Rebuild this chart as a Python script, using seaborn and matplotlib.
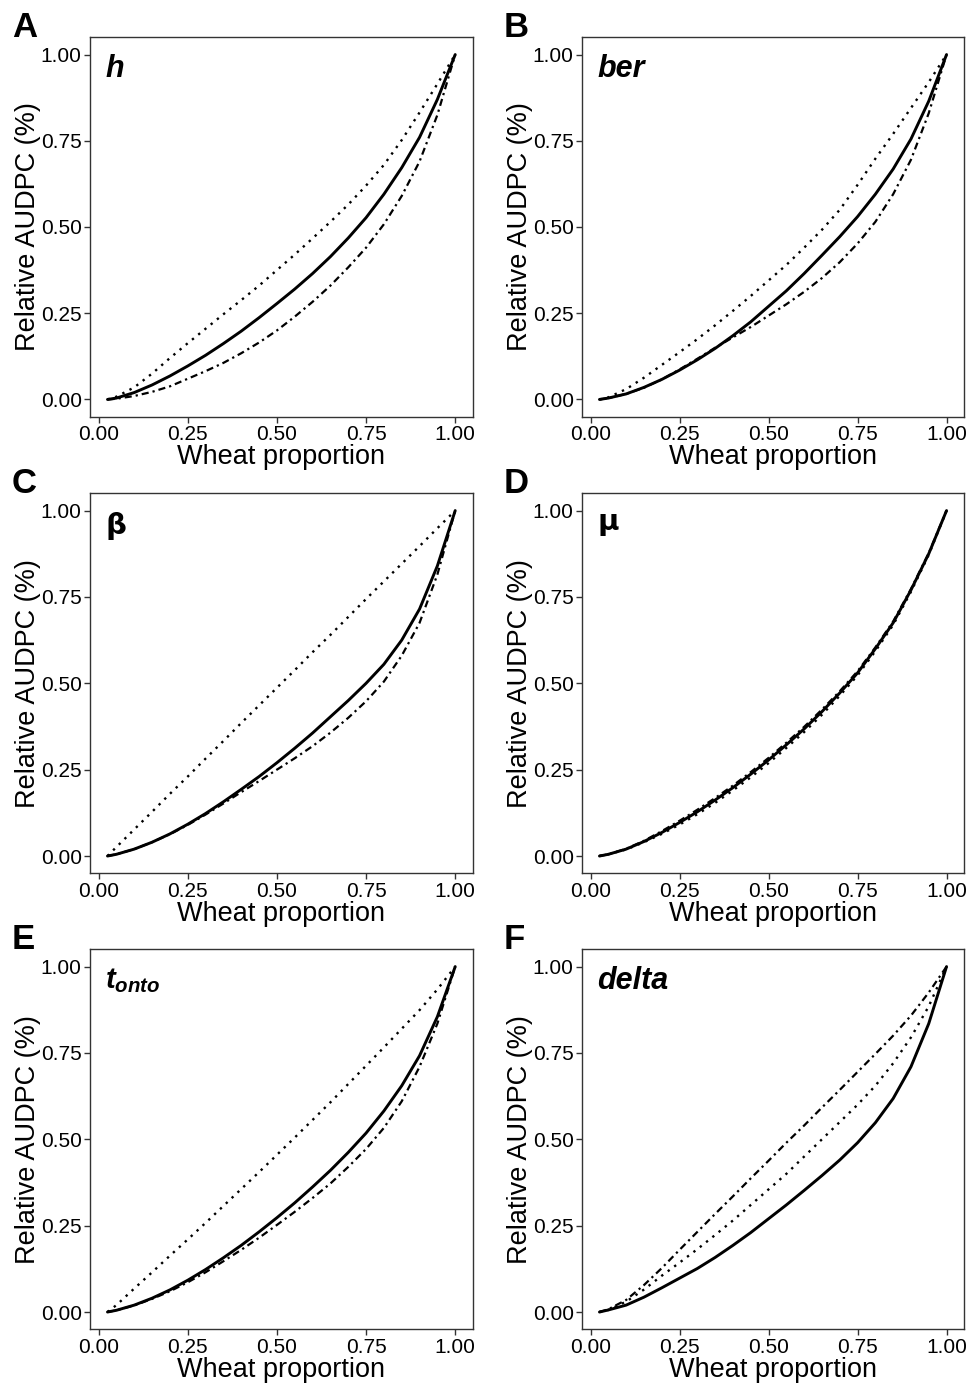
import numpy as np
import pandas as pd
import matplotlib
matplotlib.use("Agg")
import matplotlib.pyplot as plt
import seaborn as sns

# wheat proportion grid
wheat_prop = [0.025, 0.05, 0.1, 0.15, 0.2, 0.25, 0.3, 0.35, 0.4, 0.45, 0.5,
              0.55, 0.6, 0.65, 0.7, 0.75, 0.8, 0.85, 0.9, 0.95, 1.0]

# A - h
h_solid   = [0.0, 0.004, 0.020, 0.042, 0.068, 0.097, 0.128, 0.162, 0.198, 0.237, 0.278,
             0.320, 0.365, 0.414, 0.468, 0.527, 0.595, 0.672, 0.760, 0.870, 1.0]
h_dotted  = [0.0, 0.008, 0.035, 0.075, 0.120, 0.163, 0.205, 0.247, 0.288, 0.330, 0.375,
             0.420, 0.467, 0.515, 0.565, 0.620, 0.680, 0.752, 0.832, 0.915, 1.0]
h_dotdash = [0.0, 0.002, 0.010, 0.022, 0.038, 0.060, 0.082, 0.106, 0.134, 0.165, 0.200,
             0.240, 0.283, 0.330, 0.383, 0.440, 0.508, 0.590, 0.690, 0.825, 1.0]

# B - ber
ber_solid   = [0.0, 0.004, 0.016, 0.035, 0.058, 0.085, 0.115, 0.148, 0.185, 0.225, 0.270,
               0.315, 0.365, 0.418, 0.472, 0.530, 0.595, 0.668, 0.755, 0.865, 1.0]
ber_dotted  = [0.0, 0.006, 0.030, 0.063, 0.100, 0.137, 0.175, 0.215, 0.257, 0.300, 0.345,
               0.390, 0.440, 0.492, 0.550, 0.622, 0.698, 0.770, 0.845, 0.920, 1.0]
ber_dotdash = [0.0, 0.004, 0.016, 0.034, 0.058, 0.087, 0.118, 0.150, 0.180, 0.210, 0.243,
               0.276, 0.312, 0.352, 0.398, 0.452, 0.515, 0.595, 0.695, 0.830, 1.0]

# C - beta
beta_solid   = [0.0, 0.005, 0.020, 0.040, 0.064, 0.092, 0.123, 0.157, 0.193, 0.230, 0.270,
                0.312, 0.356, 0.403, 0.450, 0.500, 0.555, 0.625, 0.715, 0.840, 1.0]
beta_dotted  = [0.0, 0.026, 0.077, 0.128, 0.180, 0.230, 0.282, 0.333, 0.385, 0.436, 0.487,
                0.538, 0.590, 0.640, 0.692, 0.744, 0.795, 0.846, 0.897, 0.949, 1.0]
beta_dotdash = [0.0, 0.005, 0.020, 0.040, 0.063, 0.090, 0.120, 0.152, 0.185, 0.217, 0.250,
                0.283, 0.318, 0.357, 0.400, 0.448, 0.505, 0.580, 0.675, 0.815, 1.0]

# D - mu
mu_solid   = [0.0, 0.005, 0.020, 0.042, 0.068, 0.097, 0.128, 0.162, 0.198, 0.237, 0.278,
              0.322, 0.368, 0.418, 0.472, 0.530, 0.600, 0.675, 0.770, 0.875, 1.0]
mu_dotted  = [0.0, 0.005, 0.019, 0.040, 0.064, 0.091, 0.121, 0.154, 0.190, 0.228, 0.269,
              0.313, 0.359, 0.409, 0.464, 0.523, 0.593, 0.669, 0.765, 0.872, 1.0]
mu_dotdash = [0.0, 0.005, 0.021, 0.044, 0.072, 0.102, 0.134, 0.168, 0.204, 0.243, 0.284,
              0.328, 0.374, 0.424, 0.477, 0.535, 0.604, 0.679, 0.773, 0.877, 1.0]

# E - t_onto
tonto_solid   = [0.0, 0.005, 0.020, 0.040, 0.064, 0.092, 0.123, 0.157, 0.193, 0.232, 0.273,
                 0.316, 0.362, 0.410, 0.462, 0.518, 0.582, 0.655, 0.742, 0.855, 1.0]
tonto_dotted  = [0.0, 0.020, 0.068, 0.115, 0.163, 0.210, 0.258, 0.307, 0.356, 0.405, 0.455,
                 0.505, 0.556, 0.607, 0.660, 0.713, 0.766, 0.820, 0.874, 0.934, 1.0]
tonto_dotdash = [0.0, 0.005, 0.019, 0.038, 0.060, 0.086, 0.115, 0.147, 0.180, 0.215, 0.252,
                 0.290, 0.330, 0.372, 0.420, 0.472, 0.533, 0.610, 0.710, 0.835, 1.0]

# F - delta
delta_solid   = [0.0, 0.006, 0.020, 0.043, 0.070, 0.098, 0.126, 0.158, 0.193, 0.230, 0.270,
                 0.310, 0.352, 0.395, 0.440, 0.490, 0.548, 0.618, 0.710, 0.835, 1.0]
delta_dotted  = [0.0, 0.006, 0.030, 0.065, 0.105, 0.143, 0.182, 0.223, 0.265, 0.310, 0.355,
                 0.400, 0.450, 0.500, 0.550, 0.600, 0.655, 0.720, 0.795, 0.885, 1.0]
delta_dotdash = [0.0, 0.008, 0.035, 0.078, 0.127, 0.180, 0.232, 0.284, 0.335, 0.387, 0.438,
                 0.490, 0.540, 0.592, 0.643, 0.695, 0.747, 0.800, 0.858, 0.925, 1.0]

panel_letters = ["A", "B", "C", "D", "E", "F"]
panel_params = ["h", "ber", r"$\mathbf{\beta}$", r"$\mathbf{\mu}$", r"$t_{onto}$", "delta"]
panel_series = [
    (h_solid, h_dotted, h_dotdash),
    (ber_solid, ber_dotted, ber_dotdash),
    (beta_solid, beta_dotted, beta_dotdash),
    (mu_solid, mu_dotted, mu_dotdash),
    (tonto_solid, tonto_dotted, tonto_dotdash),
    (delta_solid, delta_dotted, delta_dotdash),
]
curve_names = ["solid", "dotted", "dotdash"]

# long table
rows = []
for letter, series in zip(panel_letters, panel_series):
    for name, vals in zip(curve_names, series):
        for xv, yv in zip(wheat_prop, vals):
            rows.append({"panel": letter, "curve": name, "x": xv, "y": yv})
df = pd.DataFrame(rows)

sns.set_theme(style="white")
plt.rcParams["font.family"] = ["Liberation Sans", "DejaVu Sans"]
plt.rcParams["text.color"] = "black"
plt.rcParams["axes.labelcolor"] = "black"
plt.rcParams["mathtext.fontset"] = "custom"
plt.rcParams["mathtext.it"] = "Liberation Sans:bold:italic"
plt.rcParams["mathtext.bf"] = "DejaVu Sans:bold"
plt.rcParams["mathtext.rm"] = "Liberation Sans"

line_styles = {
    "solid":   dict(lw=2.1, dashes=None),
    "dotted":  dict(lw=1.7, dashes=(1, 2.4)),
    "dotdash": dict(lw=1.6, dashes=(3.2, 1.8, 1, 1.8)),
}

W, H = 969, 1384
fig = plt.figure(figsize=(W / 100, H / 100), dpi=100)

col_left = [90, 582]
col_right = [472.7, 964]
row_top = [37.3, 493.3, 949.3]
row_bot = [416.7, 873.3, 1329.3]

for i, letter in enumerate(panel_letters):
    r, c = divmod(i, 2)
    ax = fig.add_axes([col_left[c] / W, 1 - row_bot[r] / H,
                       (col_right[c] - col_left[c]) / W, (row_bot[r] - row_top[r]) / H])
    sub = df[df["panel"] == letter]
    for name in curve_names:
        st = line_styles[name]
        d = sub[sub["curve"] == name]
        sns.lineplot(data=d, x="x", y="y", ax=ax, color="black", lw=st["lw"],
                     sort=False, estimator=None, legend=False)
        ax.lines[-1].set_solid_joinstyle("round")
        if st["dashes"] is not None:
            ax.lines[-1].set_dashes(st["dashes"])
    ax.set_xlim(-0.024, 1.049)
    ax.set_ylim(-0.05, 1.05)
    ticks = [0, 0.25, 0.5, 0.75, 1.0]
    ax.set_xticks(ticks)
    ax.set_yticks(ticks)
    ax.set_xticklabels([f"{t:.2f}" for t in ticks])
    ax.set_yticklabels([f"{t:.2f}" for t in ticks])
    ax.tick_params(axis="both", which="major", direction="out", length=4, width=1,
                   color="#333333", labelsize=15, labelcolor="black", pad=2,
                   bottom=True, left=True)
    for sp in ax.spines.values():
        sp.set_color("#333333")
        sp.set_linewidth(1.0)
    ax.set_xlabel("Wheat proportion", fontsize=19.5, labelpad=0)
    ax.set_ylabel("Relative AUDPC (%)", fontsize=19.5, labelpad=0)
    ax.grid(False)

    # parameter label inside panel
    lab = panel_params[i]
    if lab.startswith("$"):
        ax.text(0.04, 0.955, lab, transform=ax.transAxes, fontsize=21,
                ha="left", va="top", fontweight="bold")
    else:
        ax.text(0.04, 0.955, lab, transform=ax.transAxes, fontsize=22,
                ha="left", va="top", fontweight="bold", fontstyle="italic")

    # panel letter
    fig.text((col_left[c] - 78) / W, 1 - (row_top[r] - 26) / H, letter,
             fontsize=25, fontweight="bold", ha="left", va="top")

fig.savefig("out.png", dpi=100)
